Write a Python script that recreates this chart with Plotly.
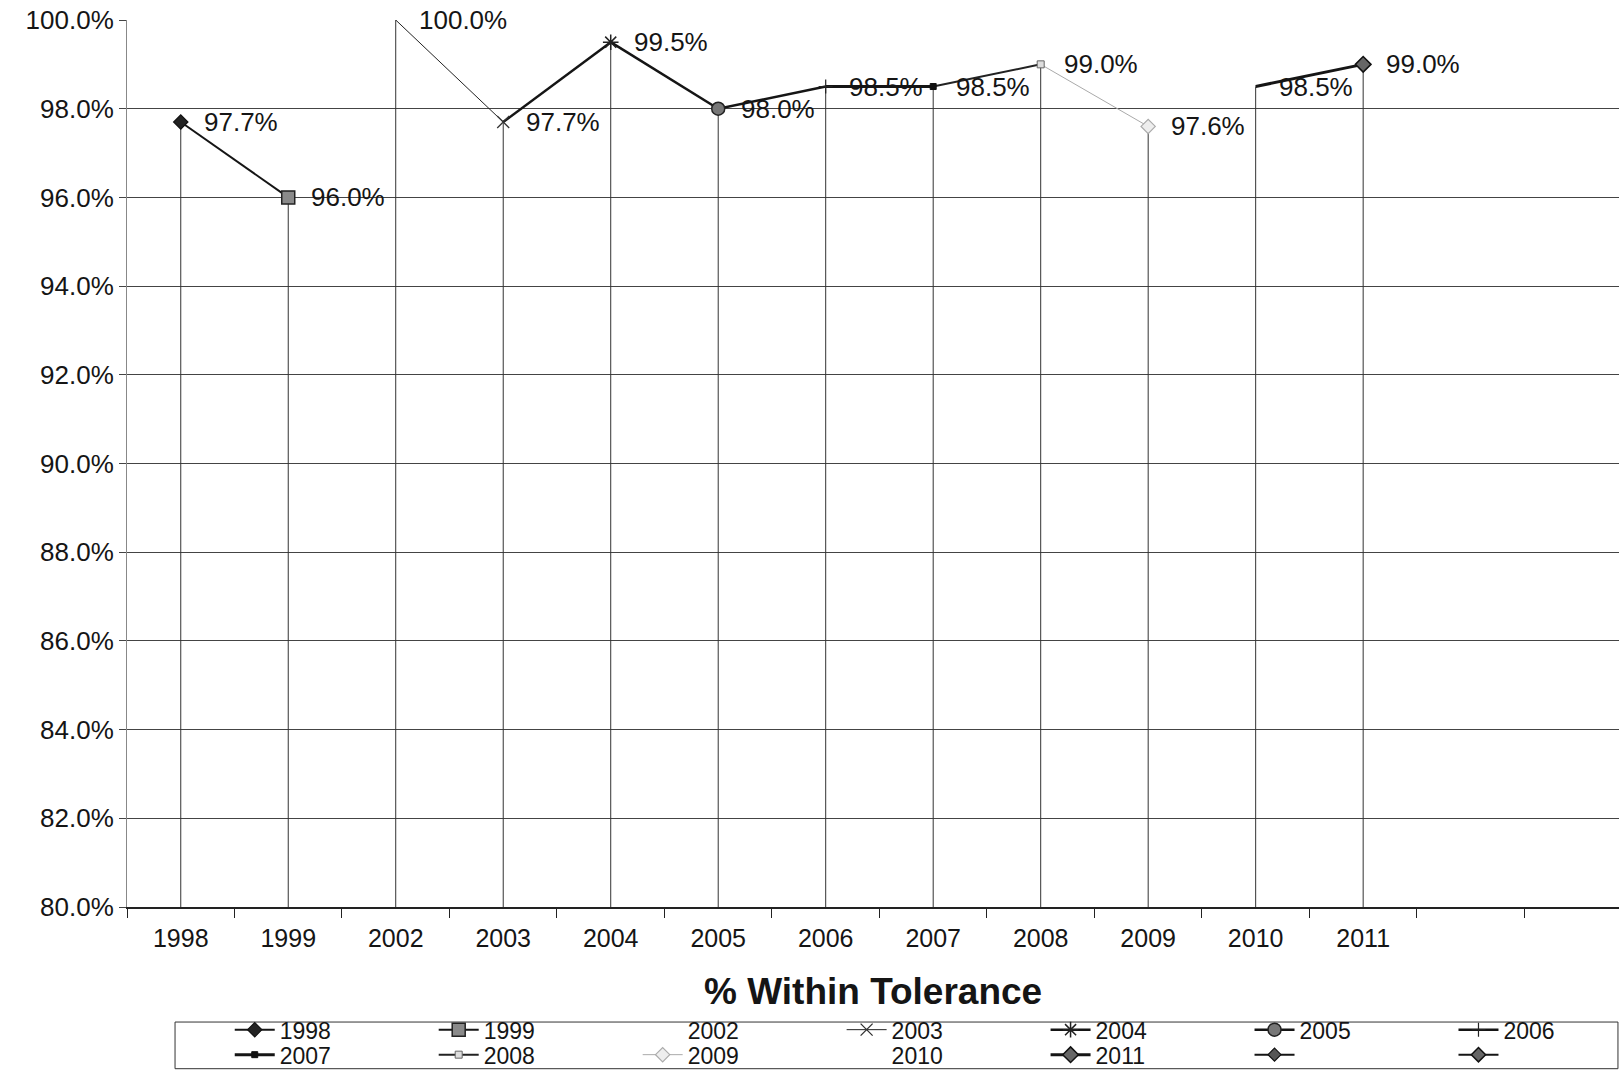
import plotly.graph_objects as go

# Survey results: share of measurements within tolerance, by year
years = ["1998", "1999", "2002", "2003", "2004", "2005", "2006",
         "2007", "2008", "2009", "2010", "2011"]
values = [97.7, 96.0, 100.0, 97.7, 99.5, 98.0, 98.5, 98.5, 99.0, 97.6, 98.5, 99.0]
# whether the series for a year is joined to the previous year's value
joined = [False, True, False, True, True, True, True, True, True, True, False, True]
extra_series = [" ", "  "]
y_ticks = [80, 82, 84, 86, 88, 90, 92, 94, 96, 98, 100]
y_tick_text = [f"{t:.1f}%" for t in y_ticks]

FONT = "Liberation Sans, Arial, sans-serif"
INK = "#151515"
PER_ROW = 7  # legend entries per row

# marker / line look of each series, in legend order
styles = [
    dict(symbol="diamond", size=11, color="#222", mline="#111", mw=1.2, lc=INK, lw=2),
    dict(symbol="square", size=13, color="#8a8a8a", mline="#222", mw=1.5, lc=INK, lw=2),
    None,
    dict(symbol="x-thin-open", size=12, color="#333", mline="#333", mw=1.3, lc="#222", lw=1),
    dict(symbol="asterisk-open", size=13, color="#222", mline="#222", mw=1.5, lc=INK, lw=2.5),
    dict(symbol="circle", size=13, color="#777", mline="#222", mw=1.5, lc=INK, lw=2.5),
    dict(symbol="cross-thin-open", size=10, color="#222", mline="#222", mw=1.2, lc=INK, lw=2.5),
    dict(symbol="square", size=6, color="#111", mline="#111", mw=1, lc=INK, lw=3),
    dict(symbol="square", size=7, color="#dddddd", mline="#666", mw=1, lc="#222", lw=2),
    dict(symbol="diamond", size=11, color="#eeeeee", mline="#aaa", mw=1.2, lc="#aaaaaa", lw=1),
    None,
    dict(symbol="diamond", size=12, color="#666", mline="#111", mw=1.5, lc=INK, lw=3),
]
extra_styles = [
    dict(symbol="diamond", size=10, color="#555", mline="#111", mw=1.2, lc=INK, lw=2),
    dict(symbol="diamond", size=11, color="#666", mline="#111", mw=1.5, lc=INK, lw=2),
]


def legend_for(k):
    return "legend" if k < PER_ROW else "legend2"


fig = go.Figure()

# drop lines from each value down to the axis floor
dx, dy = [], []
for i, v in enumerate(values):
    dx += [i, i, None]
    dy += [y_ticks[0], v, None]
fig.add_trace(go.Scatter(x=dx, y=dy, mode="lines", line=dict(color="#333", width=1),
                         showlegend=False, hoverinfo="skip"))

# connecting segments
for i, v in enumerate(values):
    st = styles[i]
    if joined[i] and st is not None:
        fig.add_trace(go.Scatter(x=[i - 1, i], y=[values[i - 1], v], mode="lines",
                                 line=dict(color=st["lc"], width=st["lw"]),
                                 showlegend=False, hoverinfo="skip"))

# the point for each year (also provides the legend entry)
for i, v in enumerate(values):
    st = styles[i]
    if st is None:
        fig.add_trace(go.Scatter(x=[i], y=[v], mode="lines", name=years[i],
                                 legend=legend_for(i),
                                 line=dict(color="rgba(0,0,0,0)", width=1)))
    else:
        fig.add_trace(go.Scatter(
            x=[i], y=[v], mode="lines+markers", name=years[i], legend=legend_for(i),
            line=dict(color=st["lc"], width=st["lw"]),
            marker=dict(symbol=st["symbol"], size=st["size"], color=st["color"],
                        line=dict(color=st["mline"], width=st["mw"]))))

for j, (name, st) in enumerate(zip(extra_series, extra_styles)):
    fig.add_trace(go.Scatter(
        x=[None], y=[None], mode="lines+markers", name=name,
        legend=legend_for(len(years) + j),
        line=dict(color=st["lc"], width=st["lw"]),
        marker=dict(symbol=st["symbol"], size=st["size"], color=st["color"],
                    line=dict(color=st["mline"], width=st["mw"]))))

# value labels to the right of each point
for i, v in enumerate(values):
    fig.add_annotation(x=i, y=v, text=f"{v:.1f}%", showarrow=False,
                       xanchor="left", yanchor="middle", xshift=21,
                       font=dict(family=FONT, size=26, color=INK))

fig.add_annotation(xref="paper", yref="paper", x=0.5, y=-0.0953,
                   text="<b>% Within Tolerance</b>", showarrow=False,
                   xanchor="center", yanchor="middle",
                   font=dict(family=FONT, size=37, color=INK))

# frame around both legend rows
fig.add_shape(type="rect", xref="paper", yref="paper",
              x0=0.0322, x1=0.9993, y0=-0.1297, y1=-0.1823,
              line=dict(color="#333", width=1), fillcolor="rgba(0,0,0,0)")

legend_common = dict(orientation="h", x=0.032, xanchor="left", yanchor="top",
                     borderwidth=0, bgcolor="rgba(0,0,0,0)",
                     font=dict(family=FONT, size=23, color=INK),
                     indentation=55, itemwidth=40,
                     entrywidth=0.1367, entrywidthmode="fraction", traceorder="normal")

fig.update_layout(
    width=1619, height=1073,
    margin=dict(l=127, r=0, t=20, b=166, autoexpand=False),
    plot_bgcolor="white", paper_bgcolor="white",
    font=dict(family=FONT, color=INK),
    xaxis=dict(range=[-0.5, 13.38], tickmode="array", tickvals=list(range(len(years))),
               ticktext=years, ticks="", showgrid=False, zeroline=False,
               showline=True, linecolor="#222", linewidth=1.5,
               tickfont=dict(family=FONT, size=25, color=INK), ticklabelstandoff=8,
               minor=dict(tickmode="linear", tick0=-0.5, dtick=1, ticks="outside",
                          ticklen=9, tickcolor="#222", tickwidth=1, showgrid=False)),
    yaxis=dict(range=[80, 100], tickmode="array", tickvals=y_ticks, ticktext=y_tick_text,
               showgrid=True, gridcolor="#444",
               gridwidth=1, zeroline=False, ticks="outside", ticklen=7,
               tickcolor="#444", showline=True, linecolor="#888", linewidth=1,
               tickfont=dict(family=FONT, size=26, color=INK)),
    legend=dict(legend_common, y=-0.1141),
    legend2=dict(legend_common, y=-0.1423),
)

fig.write_html("out.html")
